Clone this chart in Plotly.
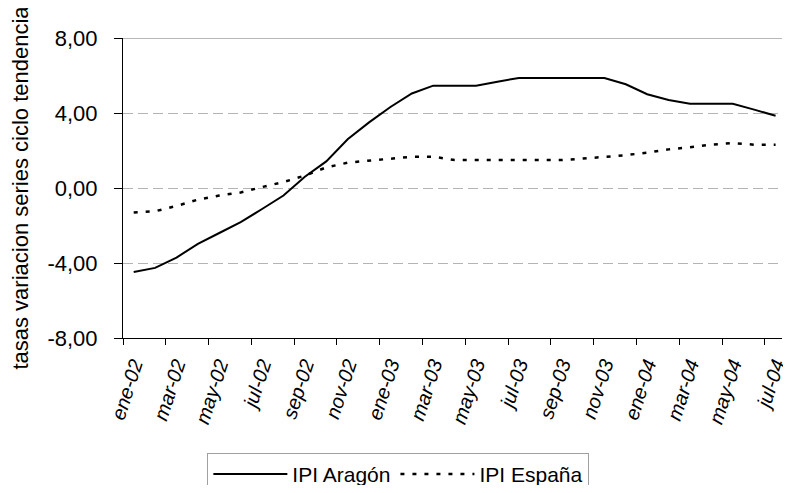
import plotly.graph_objects as go

# meses (ene-02 .. jul-04)
months = ["ene-02", "feb-02", "mar-02", "abr-02", "may-02", "jun-02", "jul-02", "ago-02",
          "sep-02", "oct-02", "nov-02", "dic-02",
          "ene-03", "feb-03", "mar-03", "abr-03", "may-03", "jun-03", "jul-03", "ago-03",
          "sep-03", "oct-03", "nov-03", "dic-03",
          "ene-04", "feb-04", "mar-04", "abr-04", "may-04", "jun-04", "jul-04"]

aragon = [-4.48, -4.26, -3.71, -2.98, -2.40, -1.82, -1.12, -0.40, 0.60, 1.42, 2.60, 3.50,
          4.32, 5.04, 5.46, 5.46, 5.46, 5.67, 5.87, 5.87, 5.87, 5.87, 5.87, 5.53,
          5.00, 4.69, 4.49, 4.49, 4.49, 4.18, 3.85]

espana = [-1.31, -1.24, -0.96, -0.62, -0.40, -0.24, 0.05, 0.32, 0.66, 1.10, 1.35, 1.46,
          1.53, 1.67, 1.67, 1.49, 1.49, 1.49, 1.49, 1.49, 1.49, 1.57, 1.67, 1.75,
          1.89, 2.06, 2.17, 2.31, 2.40, 2.31, 2.31]

y_ticks = [-8, -4, 0, 4, 8]
y_labels = ["-8,00", "-4,00", "0,00", "4,00", "8,00"]

idx = list(range(len(months)))

fig = go.Figure()
fig.add_trace(go.Scatter(x=idx, y=aragon, mode="lines", name="IPI Aragón",
                         line=dict(color="black", width=2)))
fig.add_trace(go.Scatter(x=idx, y=espana, mode="lines", name="IPI España",
                         line=dict(color="black", width=2.5, dash="4px,8px")))

# linea superior gris continua
fig.add_hline(y=8, line=dict(color="#a0a0a0", width=1.5), layer="below")

# la pagina tiene 8px de margen en el body, la zona visible acaba antes
fig.update_layout(
    width=775, height=477,
    margin=dict(l=115, r=1, t=30, b=147, autoexpand=False),
    paper_bgcolor="white", plot_bgcolor="white",
    font=dict(family="Liberation Sans, Arial, sans-serif", color="black"),
    showlegend=True,
    legend=dict(orientation="h", x=0.128, y=-0.383, xanchor="left", yanchor="top",
                bordercolor="#a0a0a0", borderwidth=1, itemwidth=74,
                font=dict(size=21)),
    xaxis=dict(range=[-0.5, 30.3], showgrid=False, zeroline=False, automargin=False,
               showline=True, linecolor="black", linewidth=1,
               tickmode="array", tickvals=idx[::2], ticktext=months[::2],
               ticks="", tickangle=-72, ticklabelstandoff=6, ticklabeloverflow="allow",
               tickfont=dict(size=20, style="italic"),
               minor=dict(tickmode="linear", tick0=-0.5, dtick=2, ticks="outside",
                          ticklen=6, tickcolor="black", showgrid=False)),
    yaxis=dict(range=[-8, 8], tickmode="array", tickvals=y_ticks, ticktext=y_labels,
               showline=True, linecolor="black", linewidth=1, automargin=False,
               ticks="outside", ticklen=8, tickcolor="black",
               showgrid=True, gridcolor="#b4b4b4", griddash="10px,5px", gridwidth=1,
               zeroline=False, ticklabelstandoff=12,
               tickfont=dict(size=22),
               title=dict(text="tasas variacion series ciclo tendencia",
                          font=dict(size=22), standoff=14)),
)

fig.write_html("out.html")
